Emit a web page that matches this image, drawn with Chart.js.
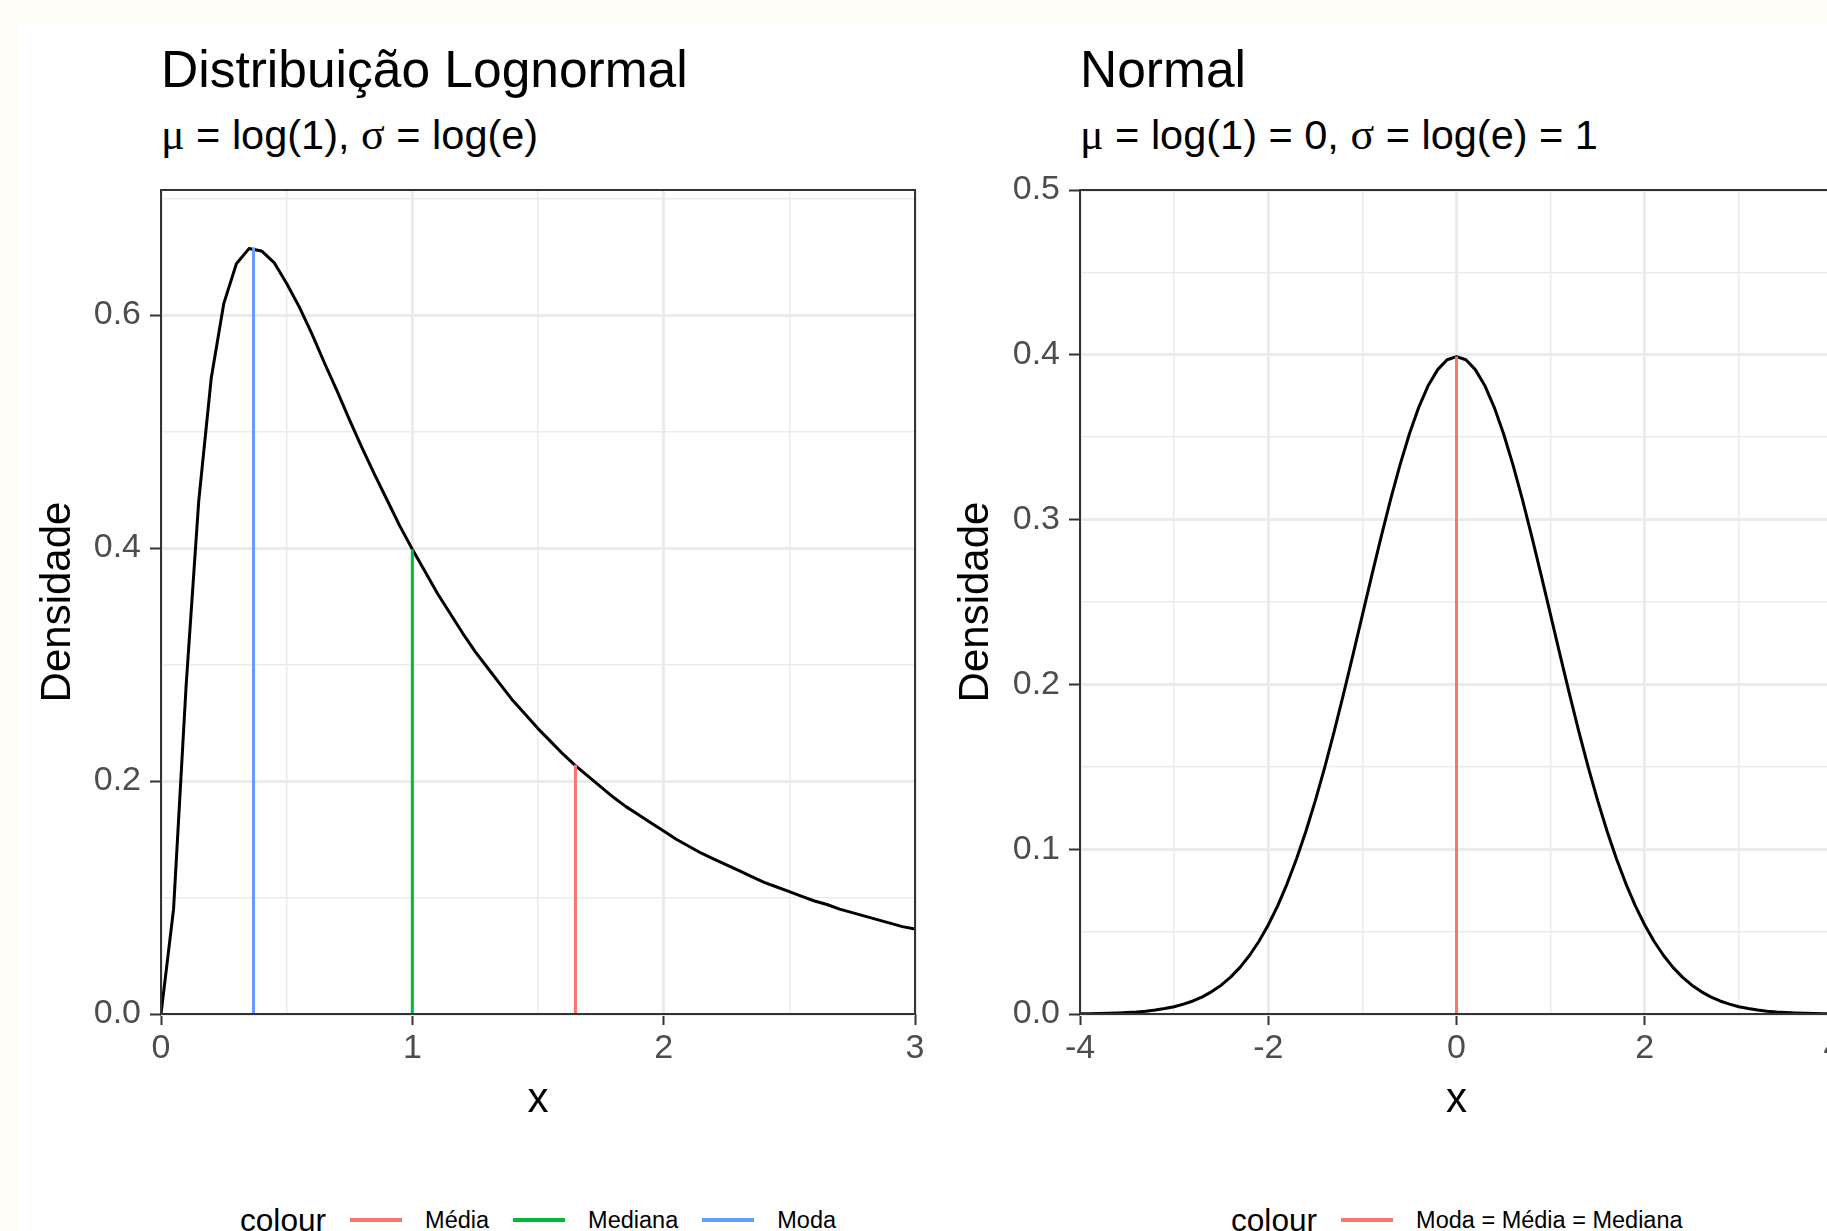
<!DOCTYPE html>
<html>
<head>
<meta charset="utf-8">
<script src="https://cdn.jsdelivr.net/npm/chart.js@4.4.1/dist/chart.umd.min.js"></script>
<style>
html, body { margin: 0; padding: 0; width: 1827px; height: 1231px; overflow: hidden; background: #fffdf7; font-family: "Liberation Sans", Arial, sans-serif; }
#sheet { position: absolute; left: 19px; top: 25px; right: 0; bottom: 0; background: #fff; }
.title { position: absolute; font-size: 51.5px; line-height: 51.5px; color: #000; white-space: nowrap; }
.subtitle { position: absolute; font-size: 41.5px; line-height: 41.5px; color: #000; white-space: nowrap; }
.gr { font-family: "Liberation Serif", serif; font-size: 44px; }
canvas { position: absolute; }
.legend { position: absolute; display: flex; align-items: center; height: 40px; white-space: nowrap; color: #000; }
.legend .ttl { font-size: 31.6px; margin-right: 24px; }
.legend .sw { display: inline-block; width: 52px; height: 3.5px; margin-right: 23px; }
.legend .lbl { font-size: 23.5px; margin-right: 24px; }
</style>
</head>
<body>
<div id="sheet"></div>

<div class="title" style="left:161px; top:44px;">Distribuição Lognormal</div>
<div class="subtitle" style="left:161px; top:114px;"><span class="gr">μ</span> = log(1), <span class="gr">σ</span> = log(e)</div>
<div class="title" style="left:1080px; top:44px;">Normal</div>
<div class="subtitle" style="left:1080px; top:114px;"><span class="gr">μ</span> = log(1) = 0, <span class="gr">σ</span> = log(e) = 1</div>

<canvas id="lognormChart" width="947" height="984" style="left:0px; top:150px; width:947px; height:984px;"></canvas>
<canvas id="normChart" width="923" height="984" style="left:940px; top:150px; width:923px; height:984px;"></canvas>

<div class="legend" id="lnLegend" style="left:240px; top:1200px;"></div>
<div class="legend" id="normLegend" style="left:1231px; top:1200px;"></div>

<script>
// Lognormal (mu = log(1), sigma = log(e))
const lnX = [0, 0.05, 0.1, 0.15, 0.2, 0.25, 0.3, 0.35, 0.4, 0.45,
    0.5, 0.55, 0.6, 0.65, 0.7, 0.75, 0.8, 0.85, 0.9, 0.95,
    1, 1.05, 1.1, 1.15, 1.2, 1.25, 1.3, 1.35, 1.4, 1.45,
    1.5, 1.55, 1.6, 1.65, 1.7, 1.75, 1.8, 1.85, 1.9, 1.95,
    2, 2.05, 2.1, 2.15, 2.2, 2.25, 2.3, 2.35, 2.4, 2.45,
    2.5, 2.55, 2.6, 2.65, 2.7, 2.75, 2.8, 2.85, 2.9, 2.95, 3];
const lnDensity = [0, 0.090, 0.282, 0.440, 0.546, 0.610, 0.644, 0.657, 0.655, 0.645,
    0.627, 0.607, 0.584, 0.559, 0.535, 0.510, 0.486, 0.463, 0.441, 0.419,
    0.399, 0.380, 0.361, 0.344, 0.327, 0.311, 0.297, 0.283, 0.269, 0.257,
    0.245, 0.234, 0.223, 0.213, 0.204, 0.195, 0.186, 0.178, 0.171, 0.164,
    0.157, 0.150, 0.144, 0.138, 0.133, 0.128, 0.123, 0.118, 0.113, 0.109,
    0.105, 0.101, 0.097, 0.094, 0.090, 0.087, 0.084, 0.081, 0.078, 0.075, 0.073];

// linhas verticais: media, mediana, moda
const lnMarkerNames = ['Média', 'Mediana', 'Moda'];
const lnMarkerX = [1.649, 1, 0.368];
const lnMarkerTop = [0.214, 0.399, 0.658];
const lnMarkerColors = ['#F8766D', '#00BA38', '#619CFF'];

const lnXTicks = [0, 1, 2, 3];
const lnXTickLabels = ['0', '1', '2', '3'];
const lnYTicks = [0, 0.2, 0.4, 0.6];
const lnYTickLabels = ['0.0', '0.2', '0.4', '0.6'];

// Normal (mu = 0, sigma = 1)
const normX = [-4, -3.9, -3.8, -3.7, -3.6, -3.5, -3.4, -3.3, -3.2, -3.1,
    -3, -2.9, -2.8, -2.7, -2.6, -2.5, -2.4, -2.3, -2.2, -2.1,
    -2, -1.9, -1.8, -1.7, -1.6, -1.5, -1.4, -1.3, -1.2, -1.1,
    -1, -0.9, -0.8, -0.7, -0.6, -0.5, -0.4, -0.3, -0.2, -0.1,
    0,
    0.1, 0.2, 0.3, 0.4, 0.5, 0.6, 0.7, 0.8, 0.9, 1,
    1.1, 1.2, 1.3, 1.4, 1.5, 1.6, 1.7, 1.8, 1.9, 2,
    2.1, 2.2, 2.3, 2.4, 2.5, 2.6, 2.7, 2.8, 2.9, 3,
    3.1, 3.2, 3.3, 3.4, 3.5, 3.6, 3.7, 3.8, 3.9, 4];
const normDensity = [0.0001, 0.0002, 0.0003, 0.0004, 0.0006, 0.0009, 0.0012, 0.0017, 0.0024, 0.0033,
    0.0044, 0.0060, 0.0079, 0.0104, 0.0136, 0.0175, 0.0224, 0.0283, 0.0355, 0.0440,
    0.0540, 0.0656, 0.0790, 0.0940, 0.1109, 0.1295, 0.1497, 0.1714, 0.1942, 0.2179,
    0.2420, 0.2661, 0.2897, 0.3123, 0.3332, 0.3521, 0.3683, 0.3814, 0.3910, 0.3970,
    0.3989,
    0.3970, 0.3910, 0.3814, 0.3683, 0.3521, 0.3332, 0.3123, 0.2897, 0.2661, 0.2420,
    0.2179, 0.1942, 0.1714, 0.1497, 0.1295, 0.1109, 0.0940, 0.0790, 0.0656, 0.0540,
    0.0440, 0.0355, 0.0283, 0.0224, 0.0175, 0.0136, 0.0104, 0.0079, 0.0060, 0.0044,
    0.0033, 0.0024, 0.0017, 0.0012, 0.0009, 0.0006, 0.0004, 0.0003, 0.0002, 0.0001];

const normMarkerNames = ['Moda = Média = Mediana'];
const normMarkerX = [0];
const normMarkerTop = [0.399];
const normMarkerColors = ['#F8766D'];

const normXTicks = [-4, -2, 0, 2, 4];
const normXTickLabels = ['-4', '-2', '0', '2', '4'];
const normYTicks = [0, 0.1, 0.2, 0.3, 0.4, 0.5];
const normYTickLabels = ['0.0', '0.1', '0.2', '0.3', '0.4', '0.5'];

const FONT = 'Liberation Sans';

function findTick(list, v) {
    return list.findIndex(t => Math.abs(t - v) < 1e-9);
}

// borda do painel (theme_bw)
const panelBorder = {
    id: 'panelBorder',
    afterDatasetsDraw(chart) {
        const a = chart.chartArea;
        const ctx = chart.ctx;
        ctx.save();
        ctx.strokeStyle = '#333333';
        ctx.lineWidth = 2;
        ctx.strokeRect(a.left, a.top, a.right - a.left, a.bottom - a.top);
        ctx.restore();
    }
};

function scaleCfg(pos, min, max, step, majors, labels, size, titleText, titlePad) {
    const isMajor = c => c.tick && findTick(majors, c.tick.value) >= 0;
    return {
        type: 'linear',
        position: pos,
        min: min,
        max: max,
        afterFit: s => {
            if (pos === 'left') s.width = size; else s.height = size;
        },
        ticks: {
            stepSize: step,
            autoSkip: false,
            maxRotation: 0,
            includeBounds: false,
            padding: pos === 'left' ? 9 : 3,
            color: '#4d4d4d',
            font: { family: FONT, size: 34 },
            callback: v => {
                const k = findTick(majors, v);
                return k < 0 ? '' : labels[k];
            }
        },
        grid: {
            color: '#ebebeb',
            lineWidth: c => isMajor(c) ? 3 : 1.5,
            tickLength: 11,
            tickWidth: 2,
            tickColor: c => isMajor(c) ? '#333333' : 'rgba(0,0,0,0)'
        },
        border: { display: false },
        title: {
            display: true,
            text: titleText,
            color: '#000',
            font: { family: FONT, size: 42 },
            padding: titlePad
        }
    };
}

function drawDensity(id, xs, ys, markX, markTop, markColors, xScale, yScale, padding) {
    const datasets = [{
        data: xs.map((x, i) => ({ x: x, y: ys[i] })),
        borderColor: '#000000',
        borderWidth: 3,
        borderJoinStyle: 'round',
        pointRadius: 0,
        tension: 0,
        order: 2
    }];
    markX.forEach((x, i) => {
        datasets.push({
            data: [{ x: x, y: 0 }, { x: x, y: markTop[i] }],
            borderColor: markColors[i],
            borderWidth: 3,
            pointRadius: 0,
            order: 1
        });
    });

    const ctx = document.getElementById(id).getContext('2d');
    return new Chart(ctx, {
        type: 'line',
        data: { datasets: datasets },
        options: {
            responsive: false,
            animation: false,
            devicePixelRatio: 1,
            layout: { padding: padding },
            plugins: {
                legend: { display: false },
                tooltip: { enabled: false }
            },
            scales: { x: xScale, y: yScale }
        },
        plugins: [panelBorder]
    });
}

function buildLegend(id, names, colors) {
    const el = document.getElementById(id);
    let html = '<span class="ttl">colour</span>';
    names.forEach((n, i) => {
        html += '<span class="sw" style="background:' + colors[i] + '"></span><span class="lbl">' + n + '</span>';
    });
    el.innerHTML = html;
}

// Lognormal
drawDensity('lognormChart', lnX, lnDensity, lnMarkerX, lnMarkerTop, lnMarkerColors,
    scaleCfg('bottom', 0, 3, 0.5, lnXTicks, lnXTickLabels, 120, 'x', { top: 0, bottom: 8 }),
    scaleCfg('left', 0, 0.7073, 0.1, lnYTicks, lnYTickLabels, 161, 'Densidade', { top: 33, bottom: 0 }),
    { top: 40, right: 32, bottom: 0, left: 0 });

// Normal
drawDensity('normChart', normX, normDensity, normMarkerX, normMarkerTop, normMarkerColors,
    scaleCfg('bottom', -4, 4, 1, normXTicks, normXTickLabels, 120, 'x', { top: 0, bottom: 8 }),
    scaleCfg('left', 0, 0.5, 0.05, normYTicks, normYTickLabels, 140, 'Densidade', { top: 11, bottom: 0 }),
    { top: 40, right: 30, bottom: 0, left: 0 });

buildLegend('lnLegend', lnMarkerNames, lnMarkerColors);
buildLegend('normLegend', normMarkerNames, normMarkerColors);
</script>
</body>
</html>
